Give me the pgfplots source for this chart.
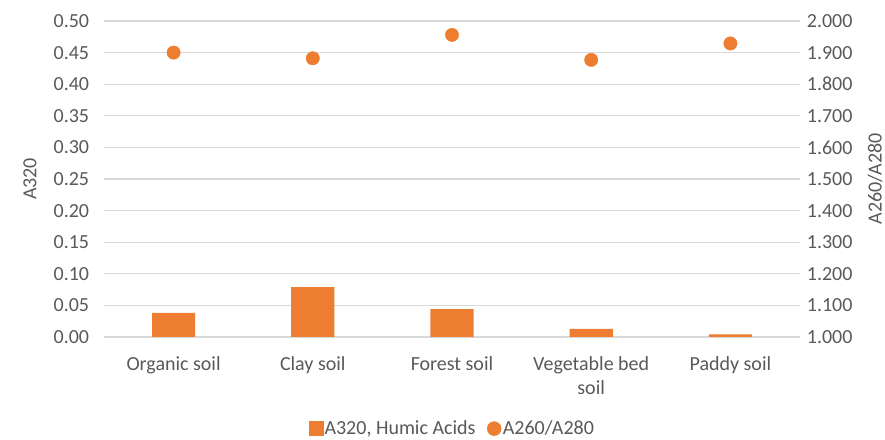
\documentclass[border=0pt]{standalone}
\usepackage{pgfplots}
\pgfplotsset{compat=1.18}
\usepackage{fontspec}
\setmainfont{Carlito}
\definecolor{barorange}{HTML}{ED7D31}
\definecolor{txtgray}{HTML}{595959}
\definecolor{gridgray}{HTML}{D9D9D9}
\begin{document}
\fontsize{20bp}{24bp}\selectfont
\begin{tikzpicture}
\path[use as bounding box] (0,0) rectangle (885bp,440bp);
\begin{axis}[
  at={(104bp,103bp)}, anchor=south west,
  scale only axis, width=696bp, height=316bp,
  xmin=-0.5, xmax=4.5, ymin=0, ymax=0.5,
  xtick={0,1,2,3,4},
  xticklabels={Organic soil, Clay soil, Forest soil, Vegetable bed\\soil, Paddy soil},
  xticklabel style={align=center, text=txtgray, font=\fontsize{20bp}{24bp}\selectfont, yshift=-13bp},
  ytick={0,0.05,...,0.501},
  yticklabel style={text=txtgray, font=\fontsize{20bp}{24bp}\selectfont, xshift=-8bp},
  /pgf/number format/assume math mode=true,
  /pgf/number format/.cd, fixed, fixed zerofill, precision=2, /pgfplots/.cd,
  ymajorgrids, grid style={gridgray, line width=1.3bp},
  axis line style={draw=none},
  major tick style={draw=none},
  ylabel={A320},
  ylabel style={at={(axis description cs:-0.1063,0.5)}, anchor=center, text=txtgray, font=\fontsize{20bp}{24bp}\selectfont},
  clip=false,
]
\addplot[ybar, bar width=0.31, fill=barorange, draw=none] coordinates {
  (0,0.038) (1,0.079) (2,0.044) (3,0.013) (4,0.004)
};
\end{axis}
\begin{axis}[
  at={(104bp,103bp)}, anchor=south west,
  scale only axis, width=696bp, height=316bp,
  xmin=-0.5, xmax=4.5, ymin=1, ymax=2,
  hide x axis,
  axis y line*=right,
  ytick={1,1.1,...,2.001},
  yticklabel style={text=txtgray, font=\fontsize{20bp}{24bp}\selectfont, xshift=0bp},
  /pgf/number format/assume math mode=true,
  /pgf/number format/.cd, fixed, fixed zerofill, precision=3, /pgfplots/.cd,
  axis line style={draw=none},
  major tick style={draw=none},
  ylabel={A260/A280},
  ylabel style={at={(axis description cs:1.1078,0.5)}, anchor=center, rotate=0, text=txtgray, font=\fontsize{20bp}{24bp}\selectfont},
  legend style={at={(0.5,-0.29)}, anchor=center, draw=none, legend columns=2,
    font=\fontsize{20bp}{24bp}\selectfont, text=txtgray,
    nodes={inner xsep=1.5bp, inner ysep=0bp},
    /tikz/every even column/.append style={column sep=10bp}},
  legend cell align=left,
  clip=false,
]
\addlegendimage{legend image code/.code={\fill[barorange] (0bp,-7bp) rectangle (14bp,7bp);}}
\addlegendentry{A320, Humic Acids}
\addplot[only marks, mark=*, mark size=6.7bp, mark options={fill=barorange, draw=barorange},
  legend image code/.code={\fill[barorange] (7bp,0bp) circle (7bp);}] coordinates {
  (0,1.900) (1,1.882) (2,1.956) (3,1.877) (4,1.929)
};
\addlegendentry{A260/A280}
\end{axis}
\end{tikzpicture}
\end{document}
